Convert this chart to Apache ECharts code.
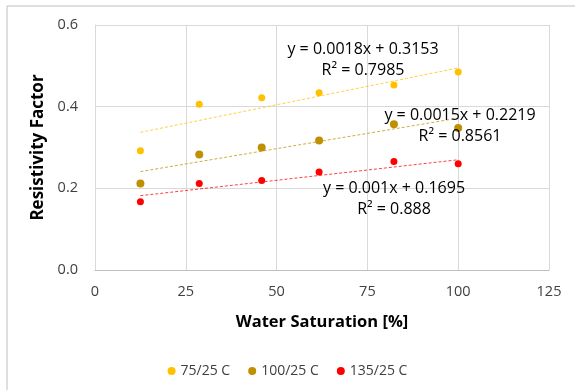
<!DOCTYPE html>
<html>
<head>
<meta charset="utf-8">
<script src="https://cdn.jsdelivr.net/npm/echarts@6/dist/echarts.min.js"></script>
<style>
    html, body { margin: 0; padding: 0; background: #fff; }
    #chart { width: 575px; height: 390px; }
</style>
</head>
<body>
<div id="chart"></div>
<script>
// water saturation [%]
const saturation = [12.5, 28.7, 45.9, 61.7, 82.3, 100];
// resistivity factor per temperature pair
const res75 = [0.292, 0.406, 0.422, 0.434, 0.453, 0.485];
const res100 = [0.212, 0.283, 0.300, 0.317, 0.357, 0.348];
const res135 = [0.167, 0.212, 0.219, 0.240, 0.266, 0.260];
// trendline ends
const trend75 = [[12.5, 0.337], [100, 0.495]];
const trend100 = [[12.5, 0.241], [100, 0.372]];
const trend135 = [[12.5, 0.182], [100, 0.270]];
const seriesNames = ['75/25 C', '100/25 C', '135/25 C'];
const equations = [
    ['y = 0.0018x + 0.3153', 'R² = 0.7985'],
    ['y = 0.0015x + 0.2219', 'R² = 0.8561'],
    ['y = 0.001x + 0.1695', 'R² = 0.888']
];

const font = '"Open Sans", "Liberation Sans", sans-serif';
const colors = ['#FFC000', '#BF9000', '#FF0000'];

const pair = (ys) => saturation.map((x, i) => [x, ys[i]]);

const mychart = echarts.init(document.getElementById('chart'));

// trendline label text
const eqPos = [[363, 49], [460, 115], [394, 188]];
const labels = [];
equations.forEach((eq, i) => {
    eq.forEach((t, j) => {
        labels.push({
            type: 'text',
            x: eqPos[i][0],
            y: eqPos[i][1] + j * 21,
            z: 10,
            style: {
                text: t,
                fill: '#000',
                font: '16px ' + font,
                textAlign: 'center',
                textVerticalAlign: 'middle'
            }
        });
    });
});

function trendSeries(data, color) {
    return {
        type: 'line',
        data: data,
        symbol: 'none',
        silent: true,
        z: 1,
        lineStyle: { color: color, width: 1, type: [3, 2], opacity: 0.75 }
    };
}

function dotSeries(i, ys, size) {
    return {
        name: seriesNames[i],
        type: 'scatter',
        data: pair(ys),
        symbolSize: size,
        itemStyle: { color: colors[i], opacity: 1 },
        z: 3
    };
}

mychart.setOption({
    animation: false,
    textStyle: { fontFamily: font },
    grid: { left: 95, right: 26, top: 25, bottom: 120 },
    xAxis: {
        type: 'value',
        min: 0,
        max: 125,
        interval: 25,
        name: 'Water Saturation [%]',
        nameLocation: 'middle',
        nameGap: 44,
        nameTextStyle: { fontSize: 16.5, fontWeight: 'bold', color: '#000' },
        axisLine: { show: true, lineStyle: { color: '#BFBFBF' } },
        axisTick: { show: false },
        axisLabel: { fontSize: 14.5, color: '#404040', margin: 14 },
        splitLine: { show: true, lineStyle: { color: '#D9D9D9' } }
    },
    yAxis: {
        type: 'value',
        min: 0,
        max: 0.6,
        interval: 0.2,
        name: 'Resistivity Factor',
        nameLocation: 'middle',
        nameGap: 46,
        nameTextStyle: { fontSize: 17, fontWeight: 'bold', color: '#000' },
        axisLine: { show: true, lineStyle: { color: '#D9D9D9' } },
        axisTick: { show: false },
        axisLabel: { fontSize: 14.5, color: '#404040', margin: 17, formatter: (v) => v.toFixed(1) },
        splitLine: { show: true, lineStyle: { color: '#D9D9D9' } }
    },
    legend: {
        data: seriesNames,
        left: 'center',
        top: 359,
        itemWidth: 8,
        itemHeight: 8,
        itemGap: 18,
        icon: 'circle',
        textStyle: { fontSize: 14, color: '#404040', fontFamily: font }
    },
    graphic: [
        { type: 'line', shape: { x1: 7, y1: 6, x2: 575, y2: 6 }, style: { stroke: '#BFBFBF', lineWidth: 1 } },
        { type: 'line', shape: { x1: 7, y1: 6, x2: 7, y2: 390 }, style: { stroke: '#BFBFBF', lineWidth: 1 } }
    ].concat(labels),
    series: [
        dotSeries(0, res75, 7),
        dotSeries(1, res100, 8),
        dotSeries(2, res135, 7),
        trendSeries(trend75, colors[0]),
        trendSeries(trend100, colors[1]),
        trendSeries(trend135, colors[2])
    ]
});
</script>
</body>
</html>
